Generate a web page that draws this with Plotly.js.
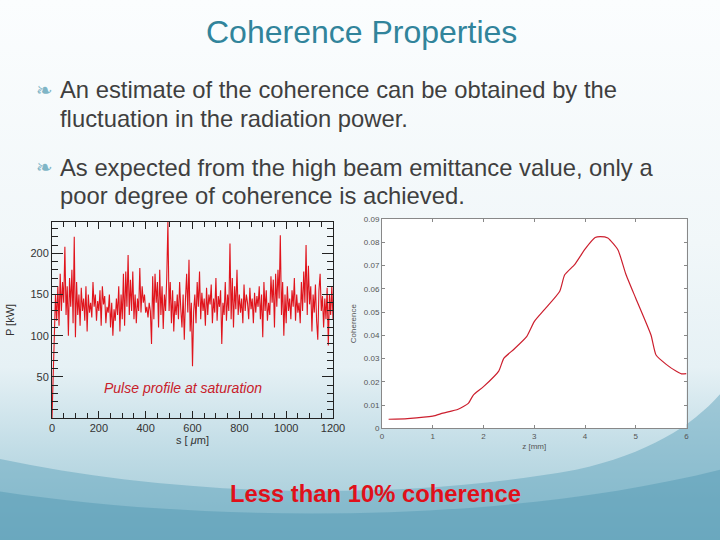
<!DOCTYPE html>
<html>
<head>
<meta charset="utf-8">
<script src="https://cdn.plot.ly/plotly-3.0.1.min.js"></script>
<style>
html,body{margin:0;padding:0;width:720px;height:540px;overflow:hidden;}
body{background:linear-gradient(to bottom,#fbfdfe 0%,#f1f7f9 45%,#e6f1f5 68%,#c4dee7 82%,#9cc7d5 100%);}
#chart{width:720px;height:540px;}
</style>
</head>
<body>
<div id="chart"></div>
<script>
// Pulse profile at saturation: s [um] vs P [kW]
const sPos = [];
for (let i = 0; i <= 240; i++) sPos.push(i * 5);
const power = [
0,60,115,150,118,160,112,175,130,165,140,208,125,160,100,170,135,180,115,220,
98,165,125,150,112,158,130,145,118,160,105,150,128,140,122,165,135,150,118,142,
130,155,112,160,138,148,115,135,128,150,110,140,100,132,118,145,125,160,105,150,
120,175,112,178,135,198,125,168,130,178,120,150,115,145,130,182,128,160,140,150,
128,135,122,140,130,90,172,120,175,140,165,110,180,125,160,108,150,130,170,238,
130,165,115,155,105,142,125,150,120,165,132,110,150,95,145,175,128,192,105,140,
63,130,150,115,165,135,178,120,152,130,145,112,158,125,150,138,162,115,145,128,
170,118,148,135,155,90,140,125,165,118,150,130,212,120,170,110,160,132,180,125,
150,128,145,115,162,130,150,140,120,158,132,145,115,152,128,148,135,160,120,150,
98,165,130,155,118,140,125,172,140,168,110,175,135,180,145,222,125,165,100,150,
115,160,130,145,120,155,135,170,118,150,128,140,115,165,130,178,140,210,125,185,
138,160,105,150,128,162,118,95,155,175,130,148,110,145,120,158,88,150,125,160,
120
];
// Coherence vs z [mm]
const zPos = [0.13,0.5,1.0,1.2,1.5,1.7,1.8,2.0,2.3,2.4,2.6,2.85,3.0,3.2,3.5,3.6,3.8,4.0,4.2,4.3,4.45,4.65,4.8,5.0,5.3,5.4,5.6,5.8,5.9,6.0];
const coherence = [0.0039,0.0042,0.0052,0.0065,0.0082,0.0107,0.0143,0.0179,0.0246,0.0301,0.034,0.0394,0.0459,0.051,0.0588,0.066,0.0705,0.077,0.082,0.0824,0.0818,0.0767,0.0666,0.0559,0.0401,0.0315,0.0275,0.0245,0.0234,0.0235];

const sTicks = [0,200,400,600,800,1000,1200];
const pTicks = [50,100,150,200];
const zTicks = [0,1,2,3,4,5,6];
const cTicks = [0,0.01,0.02,0.03,0.04,0.05,0.06,0.07,0.08,0.09];

const FONT = "Liberation Sans";

const traces = [
  {x: sPos, y: power, type: 'scatter', mode: 'lines', xaxis: 'x', yaxis: 'y',
   line: {color: '#e0141c', width: 1.1}, hoverinfo: 'skip', showlegend: false},
  {x: zPos, y: coherence, type: 'scatter', mode: 'lines', xaxis: 'x2', yaxis: 'y2',
   line: {color: '#cc1f2e', width: 1.2, shape: 'spline', smoothing: 0.5}, hoverinfo: 'skip', showlegend: false}
];

const layout = {
  width: 720, height: 540,
  margin: {l: 0, r: 0, t: 0, b: 0},
  paper_bgcolor: 'rgba(0,0,0,0)',
  plot_bgcolor: 'rgba(0,0,0,0)',
  font: {family: FONT, color: '#333'},
  showlegend: false,
  xaxis: {
    domain: [52/720, 333/720], range: [0, 1200], tickvals: sTicks,
    ticks: 'inside', ticklen: 7, tickcolor: '#222', showline: true, linecolor: '#222', linewidth: 1,
    mirror: 'ticks', showgrid: false, zeroline: false,
    minor: {dtick: 50, ticks: 'inside', ticklen: 5, tickcolor: '#222', showgrid: false},
    tickfont: {size: 11, color: '#333'},
    title: {text: 's [ <i>μ</i>m]', font: {size: 11, color: '#333'}, standoff: 2}
  },
  yaxis: {
    domain: [1-418/540, 1-222/540], range: [0, 238], tickvals: pTicks,
    ticks: 'inside', ticklen: 11, tickcolor: '#222', showline: true, linecolor: '#222', linewidth: 1,
    mirror: 'ticks', showgrid: false, zeroline: false,
    minor: {dtick: 10, ticks: 'inside', ticklen: 6, tickcolor: '#222', showgrid: false},
    tickfont: {size: 11, color: '#333'},
    title: {text: 'P [kW]', font: {size: 11, color: '#333'}, standoff: 13}
  },
  xaxis2: {
    domain: [382/720, 686.5/720], range: [0, 6], tickvals: zTicks, anchor: 'y2',
    ticks: 'inside', ticklen: 3, tickcolor: '#888', showline: true, linecolor: '#888', linewidth: 1,
    mirror: 'ticks', showgrid: false, zeroline: false,
    tickfont: {size: 8, color: '#555'},
    title: {text: 'z [mm]', font: {size: 8, color: '#555'}, standoff: 3}
  },
  yaxis2: {
    domain: [1-428.3/540, 1-219/540], range: [0, 0.09], tickvals: cTicks, anchor: 'x2',
    ticks: 'inside', ticklen: 3, tickcolor: '#888', showline: true, linecolor: '#888', linewidth: 1,
    mirror: 'ticks', showgrid: false, zeroline: false,
    tickfont: {size: 8, color: '#555'},
    title: {text: 'Coherence', font: {size: 8, color: '#555'}, standoff: 6}
  },
  shapes: [
    {type: 'path', xref: 'paper', yref: 'paper', layer: 'below', line: {width: 0},
     fillcolor: 'rgba(100,165,190,0.5)',
     path: 'M 0 0.15 C 0.25 0.08, 0.55 0.07, 0.8 0.13 C 0.9 0.16, 0.96 0.21, 1 0.27 L 1 0 L 0 0 Z'},
    {type: 'path', xref: 'paper', yref: 'paper', layer: 'below', line: {width: 0},
     fillcolor: 'rgba(80,150,178,0.45)',
     path: 'M 0 0.09 C 0.3 0.03, 0.7 0.03, 1 0.13 L 1 0 L 0 0 Z'},
    {type: 'rect', xref: 'x2 domain', yref: 'y2 domain', x0: 0, x1: 1, y0: 0, y1: 1,
     layer: 'below', fillcolor: '#ffffff', line: {width: 0}}
  ],
  annotations: [
    {text: 'Coherence Properties', xref: 'paper', yref: 'paper', x: 361/720, y: 1-32/540,
     xanchor: 'center', yanchor: 'middle', showarrow: false,
     font: {family: FONT, size: 32, color: '#31849b'}},
    {text: '❧', xref: 'paper', yref: 'paper', x: 34/720, y: 1-90/540, xanchor: 'left', yanchor: 'middle',
     showarrow: false, font: {family: 'DejaVu Sans', size: 20, color: '#7fb5c6'}},
    {text: 'An estimate of the coherence can be obtained by the', xref: 'paper', yref: 'paper',
     x: 58/720, y: 1-90/540, xanchor: 'left', yanchor: 'middle', showarrow: false,
     font: {family: FONT, size: 23.8, color: '#3f3f3f'}},
    {text: 'fluctuation in the radiation power.', xref: 'paper', yref: 'paper',
     x: 58/720, y: 1-118/540, xanchor: 'left', yanchor: 'middle', showarrow: false,
     font: {family: FONT, size: 23.8, color: '#3f3f3f'}},
    {text: '❧', xref: 'paper', yref: 'paper', x: 34/720, y: 1-167/540, xanchor: 'left', yanchor: 'middle',
     showarrow: false, font: {family: 'DejaVu Sans', size: 20, color: '#7fb5c6'}},
    {text: 'As expected from the high beam emittance value, only a', xref: 'paper', yref: 'paper',
     x: 58/720, y: 1-167/540, xanchor: 'left', yanchor: 'middle', showarrow: false,
     font: {family: FONT, size: 23.8, color: '#3f3f3f'}},
    {text: 'poor degree of coherence is achieved.', xref: 'paper', yref: 'paper',
     x: 58/720, y: 1-195/540, xanchor: 'left', yanchor: 'middle', showarrow: false,
     font: {family: FONT, size: 23.8, color: '#3f3f3f'}},
    {text: '<i>Pulse profile at saturation</i>', xref: 'paper', yref: 'paper',
     x: 102/720, y: 1-388/540, xanchor: 'left', yanchor: 'middle', showarrow: false,
     font: {family: FONT, size: 14, color: '#c8202a'}},
    {text: '<b>Less than 10% coherence</b>', xref: 'paper', yref: 'paper',
     x: 375/720, y: 1-493/540, xanchor: 'center', yanchor: 'middle', showarrow: false,
     font: {family: FONT, size: 23.8, color: '#e0101a'}}
  ]
};

Plotly.newPlot('chart', traces, layout, {staticPlot: true, displayModeBar: false});
</script>
</body>
</html>
